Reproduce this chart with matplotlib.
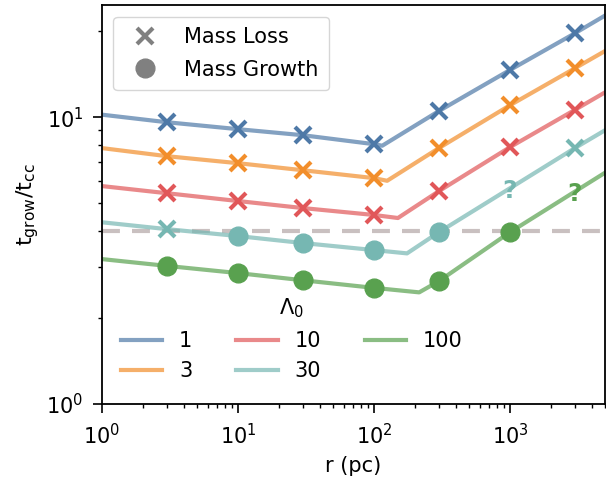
import matplotlib
matplotlib.use("Agg")
import matplotlib.pyplot as plt
from matplotlib.lines import Line2D

plt.rcParams['font.family'] = ['DejaVu Sans']
plt.rcParams['font.size'] = 15

# --- data -------------------------------------------------------------
lambdas = ["1", "3", "10", "30", "100"]
colors = ["#4e79a7", "#f28e2b", "#e15759", "#76b7b2", "#59a14f"]

r_markers = [3, 10, 30, 100, 300, 1000, 3000]

# marker values and kinds ('x' = mass loss, 'o' = mass growth, '?' = unknown)
marker_vals = {
    "1":   [9.6, 9.08, 8.65, 8.05, 10.5, 14.6, 19.6],
    "3":   [7.31, 6.91, 6.53, 6.13, 7.8, 11.0, 14.8],
    "10":  [5.43, 5.1, 4.82, 4.56, 5.52, 7.86, 10.6],
    "30":  [4.07, 3.85, 3.64, 3.44, 3.97, 5.65, 7.8],
    "100": [3.03, 2.86, 2.70, 2.54, 2.68, 3.97, 5.5],
}
marker_kinds = {
    "1":   ["x", "x", "x", "x", "x", "x", "x"],
    "3":   ["x", "x", "x", "x", "x", "x", "x"],
    "10":  ["x", "x", "x", "x", "x", "x", "x"],
    "30":  ["x", "o", "o", "o", "o", "?", "x"],
    "100": ["o", "o", "o", "o", "o", "o", "?"],
}

# model curves
line_r = {
    "1":   [1, 3, 10, 30, 100, 115, 300, 1000, 3000, 5000],
    "3":   [1, 3, 10, 30, 100, 125, 300, 1000, 3000, 5000],
    "10":  [1, 3, 10, 30, 100, 150, 300, 1000, 3000, 5000],
    "30":  [1, 3, 10, 30, 100, 175, 300, 1000, 3000, 5000],
    "100": [1, 3, 10, 30, 100, 215, 300, 1000, 3000, 5000],
}
line_v = {
    "1":   [10.2, 9.6, 9.08, 8.65, 8.05, 7.95, 10.5, 14.6, 19.6, 22.6],
    "3":   [7.8, 7.31, 6.91, 6.53, 6.13, 6.0, 7.8, 11.0, 14.8, 17.0],
    "10":  [5.75, 5.43, 5.1, 4.82, 4.56, 4.45, 5.52, 7.86, 10.6, 12.2],
    "30":  [4.3, 4.07, 3.85, 3.64, 3.44, 3.35, 3.97, 5.65, 7.8, 9.0],
    "100": [3.2, 3.03, 2.86, 2.70, 2.54, 2.45, 2.68, 3.97, 5.5, 6.4],
}

threshold = 4.0

# --- figure -----------------------------------------------------------
fig = plt.figure(figsize=(6.06, 4.83), dpi=100)
ax = fig.add_axes([102 / 606, (483 - 404) / 483, (605 - 102) / 606, (404 - 5) / 483])
ax.set_xscale("log")
ax.set_yscale("log")

ax.axhline(threshold, color="#c9c0c0", lw=3, linestyle=(0, (4.3, 2.9)), zorder=1)

line_handles = []
for lam, c in zip(lambdas, colors):
    h, = ax.plot(line_r[lam], line_v[lam], color=c, lw=3, alpha=0.7,
                 solid_joinstyle="round", zorder=2, label=lam)
    line_handles.append(h)
    for r, v, k in zip(r_markers, marker_vals[lam], marker_kinds[lam]):
        if k == "x":
            ax.plot([r], [v], marker="x", ms=12, mew=3, color=c, zorder=3)
        elif k == "o":
            ax.plot([r], [v], marker="o", ms=13.5, color=c, zorder=3)
        else:
            ax.text(r, v, "?", color=c, fontsize=18, fontweight="bold",
                    ha="center", va="center_baseline", zorder=3)

ax.set_xlim(1, 5000)
ax.set_ylim(1, 24.6)
ax.set_xlabel("r (pc)", fontsize=15, labelpad=6)
ax.set_ylabel(r"t$_{\rm grow}$/t$_{\rm cc}$", fontsize=16, labelpad=4)
ax.tick_params(which="major", length=6.5, width=1.2, labelsize=15, pad=7)
ax.tick_params(which="minor", length=3.2, width=1.0)
for s in ax.spines.values():
    s.set_linewidth(1.3)

mk_handles = [
    Line2D([], [], ls="none", marker="x", ms=12, mew=3, color="gray"),
    Line2D([], [], ls="none", marker="o", ms=13.5, color="gray"),
]
leg1 = ax.legend(mk_handles, ["Mass Loss", "Mass Growth"], loc="upper left",
                 fontsize=15, borderpad=0.5, handletextpad=0.9,
                 labelspacing=0.6, handlelength=2.0,
                 bbox_to_anchor=(0.002, 0.997))
ax.add_artist(leg1)

leg2 = ax.legend(line_handles, lambdas, title=r"$\Lambda_0$", ncol=3,
                 frameon=False, loc="lower left", bbox_to_anchor=(0.0, 0.01),
                 fontsize=15, title_fontsize=15, handlelength=2.0,
                 columnspacing=2.1, handletextpad=0.8, labelspacing=0.5)

fig.savefig("out.png", dpi=100)
